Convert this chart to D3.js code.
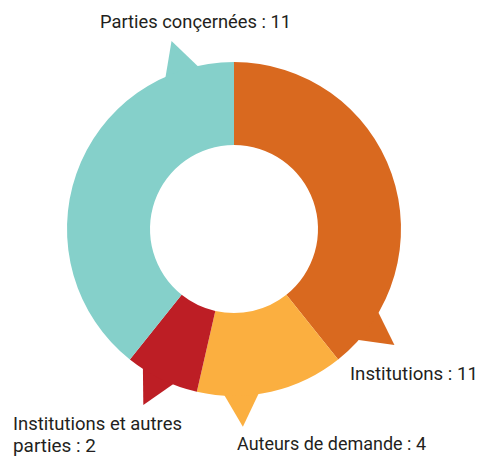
<!DOCTYPE html>
<html>
<head>
<meta charset="utf-8">
<script src="https://cdn.jsdelivr.net/npm/d3@7"></script>
<style>
  body { margin: 0; background: #fff; }
  text { font-family: Roboto, "DejaVu Sans Condensed", sans-serif; font-weight: 400; fill: #231f20; }
</style>
</head>
<body>
<svg></svg>
<script>
// data

const categories = ["Institutions", "Auteurs de demande", "Institutions et autres parties", "Parties conçernées"];
const values = [11, 4, 2, 11];
const colors = ["#d9691f", "#fbaf40", "#bd1e25", "#85d0ca"];

// dimensions

const width = 485, height = 458;
const cx = 234, cy = 229;
const outerR = 167, innerR = 84;

const svg = d3.select("svg")
              .attr("width", width)
              .attr("height", height);

const g = svg.append("g")
             .attr("transform", `translate(${cx},${cy})`);

const pie = d3.pie().sort(null).value(d => d);
const arcs = pie(values);

const arc = d3.arc().innerRadius(innerR).outerRadius(outerR);

// callout pointer: position inside each slice (0..1), tip radius, half width
const pointerPos = [0.89, 0.70, 0.56, 0.87];
const tipR = 198, halfW = 6.5 * Math.PI / 180;

const polar = (a, r) => [Math.sin(a) * r, -Math.cos(a) * r];

arcs.forEach((d, i) => {
  const a = d.startAngle + (d.endAngle - d.startAngle) * pointerPos[i];
  const pts = [polar(a - halfW, outerR - 3), polar(a, tipR), polar(a + halfW, outerR - 3)];
  g.append("path")
   .attr("d", "M" + pts.join("L") + "Z")
   .attr("fill", colors[i]);
});

g.selectAll(".slice")
 .data(arcs)
 .enter()
 .append("path")
 .attr("class", "slice")
 .attr("d", arc)
 .attr("fill", (d, i) => colors[i]);

// labels

const labels = [
  { lines: [`${categories[3]} : ${values[3]}`], x: 100, y: 28, w: [191] },
  { lines: [`${categories[0]} : ${values[0]}`], x: 350, y: 380, w: [128] },
  { lines: [`${categories[1]} : ${values[1]}`], x: 237, y: 450, w: [189] },
  { lines: ["Institutions et autres", `parties : ${values[2]}`], x: 13, y: 430, w: [169, 83] }
];

labels.forEach(l => {
  l.lines.forEach((t, j) => {
    svg.append("text")
       .attr("x", l.x)
       .attr("y", l.y + j * 22)
       .attr("font-size", 19)
       .attr("textLength", l.w[j])
       .attr("lengthAdjust", "spacingAndGlyphs")
       .text(t);
  });
});
</script>
</body>
</html>
